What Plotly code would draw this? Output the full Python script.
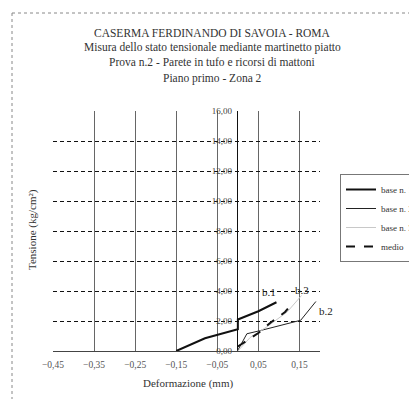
import plotly.graph_objects as go

# ---- data ----
base1_x = [-0.15, -0.08, 0.0, 0.0, 0.05, 0.094]
base1_y = [0.0, 0.85, 1.45, 2.1, 2.65, 3.25]

base2_x = [0.0, 0.022, 0.053, 0.10, 0.153, 0.19]
base2_y = [0.05, 1.15, 1.35, 1.7, 2.05, 3.3]

base3_x = [0.0, 0.03, 0.07, 0.12, 0.155]
base3_y = [0.0, 0.9, 1.6, 2.6, 3.7]

medio_x = [0.0, 0.05, 0.08, 0.115, 0.13]
medio_y = [0.3, 1.2, 1.9, 2.6, 3.1]

series_names = ["base n. 1", "base n. 2", "base n. 3", "medio"]
end_labels = ["b.1", "b.2", "b.3"]

title_lines = [
    "CASERMA FERDINANDO DI SAVOIA - ROMA",
    "Misura dello stato tensionale mediante martinetto piatto",
    "Prova n.2 - Parete in tufo e ricorsi di mattoni",
    "Piano primo - Zona 2",
]
x_title = "Deformazione (mm)"
y_title = "Tensione (kg/cm²)"

SERIF = "Liberation Serif, Times New Roman, serif"

fig = go.Figure()
fig.add_trace(go.Scatter(x=base1_x, y=base1_y, mode="lines", name=series_names[0],
                         line=dict(color="#111", width=2)))
fig.add_trace(go.Scatter(x=base2_x, y=base2_y, mode="lines", name=series_names[1],
                         line=dict(color="#222", width=1)))
fig.add_trace(go.Scatter(x=base3_x, y=base3_y, mode="lines", name=series_names[2],
                         line=dict(color="#c8c8c8", width=1)))
fig.add_trace(go.Scatter(x=medio_x, y=medio_y, mode="lines", name=series_names[3],
                         line=dict(color="#111", width=2, dash="dash")))

# page body adds an 8px offset; positions below are measured in the window
OFF = 8
W, H = 417 - OFF, 399 - OFF
L, R, T, B = 53 - OFF, 320 - OFF, 111 - OFF, 351 - OFF


def px(xp):
    return (xp - OFF - L) / (R - L)


def py(yp):
    return (B - (yp - OFF)) / (B - T)


xmin, xmax = -0.45, 0.2
annotations = []
title_y_px = [33, 47, 62, 78]
for txt, yp in zip(title_lines, title_y_px):
    annotations.append(dict(text=txt, xref="paper", yref="paper", x=px(212), y=py(yp),
                            showarrow=False, xanchor="center", yanchor="middle",
                            font=dict(family=SERIF, size=11.5, color="#333")))
annotations.append(dict(text=y_title, xref="paper", yref="paper", x=px(32), y=py(230),
                        textangle=-90, showarrow=False, xanchor="center", yanchor="middle",
                        font=dict(family=SERIF, size=11, color="#333")))
annotations.append(dict(text=x_title, xref="paper", yref="paper", x=px(188), y=py(383),
                        showarrow=False, xanchor="center", yanchor="middle",
                        font=dict(family=SERIF, size=11, color="#333")))
# end-of-curve labels
annotations.append(dict(text=end_labels[0], xref="x", yref="y", x=base1_x[-1], y=base1_y[-1],
                        showarrow=False, xanchor="center", yanchor="bottom", yshift=2, xshift=-7,
                        font=dict(family=SERIF, size=11, color="#222")))
annotations.append(dict(text=end_labels[1], xref="x", yref="y", x=base2_x[-1], y=base2_y[-1],
                        showarrow=False, xanchor="left", yanchor="top", xshift=1, yshift=-1,
                        font=dict(family=SERIF, size=11, color="#222")))
annotations.append(dict(text=end_labels[2], xref="x", yref="y", x=base3_x[-1], y=base3_y[-1],
                        showarrow=False, xanchor="center", yanchor="bottom", yshift=-2,
                        font=dict(family=SERIF, size=11, color="#222")))

shapes = [
    dict(type="line", xref="paper", yref="paper", x0=px(12), x1=px(12), y0=py(13), y1=py(399),
         line=dict(color="#888", width=1, dash="dot")),
    dict(type="line", xref="paper", yref="paper", x0=px(12), x1=px(417), y0=py(13), y1=py(13),
         line=dict(color="#888", width=1, dash="dot")),
]

fig.update_layout(
    width=W, height=H,
    margin=dict(l=L, r=W - R, t=T, b=H - B, autoexpand=False),
    paper_bgcolor="white", plot_bgcolor="white",
    separators=",.",
    showlegend=True,
    legend=dict(x=px(340), y=py(218), xanchor="left", yanchor="middle",
                bgcolor="white", bordercolor="#777", borderwidth=1,
                font=dict(family=SERIF, size=9, color="#333"),
                tracegroupgap=0, itemwidth=30),
    annotations=annotations,
    shapes=shapes,
    xaxis=dict(range=[xmin, xmax], tick0=-0.45, dtick=0.1, tickformat=".2f",
               showgrid=True, gridcolor="#666", gridwidth=1,
               zeroline=True, zerolinecolor="#111", zerolinewidth=1,
               showline=True, linecolor="#444", linewidth=1,
               ticks="", ticklabelstandoff=5,
               tickfont=dict(family=SERIF, size=9.5, color="#555")),
    yaxis=dict(range=[0, 16], dtick=2, tickformat=".2f",
               anchor="free", position=(0 - xmin) / (xmax - xmin),
               showgrid=True, gridcolor="#111", gridwidth=1, griddash="4px,3px",
               zeroline=False, showline=False,
               ticks="outside", ticklen=4, tickcolor="rgba(0,0,0,0)",
               tickfont=dict(family=SERIF, size=9, color="#444")),
)

fig.write_html("out.html")
